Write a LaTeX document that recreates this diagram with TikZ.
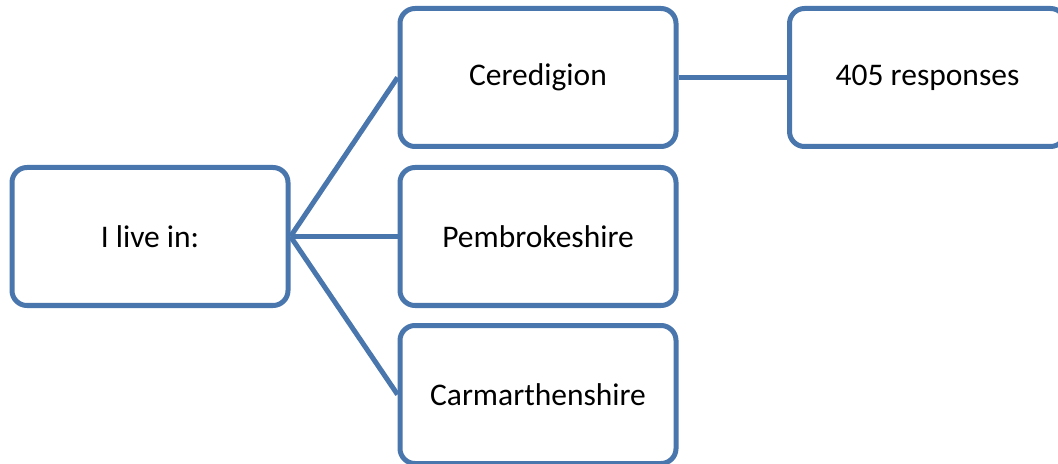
\documentclass[tikz,border=0pt]{standalone}
\usepackage{fontspec}
\setmainfont{Carlito}
\usepackage{tikz}
\usetikzlibrary{positioning,calc}

\definecolor{boxblue}{HTML}{4A76AE}

\begin{document}
\begin{tikzpicture}[x=0.5pt,y=-0.5pt,
    choice/.style={draw=boxblue,line width=2.5pt,rounded corners=7.5pt,fill=white,
      minimum width=138pt,minimum height=69pt,inner sep=0pt,
      font=\fontsize{15.75}{19}\selectfont},
    link/.style={draw=boxblue,line width=2.5pt}]
  \useasboundingbox (0,0) rectangle (1058,464);
  \node[choice] (live) at (150,236.5) {I live in:};
  \node[choice] (cered) at (538,77.5) {Ceredigion};
  \node[choice] (pemb) at (538,236.5) {Pembrokeshire};
  \node[choice] (carm) at (538,394.5) {Carmarthenshire};
  \node[choice] (resp) at (927.5,77.5) {405 responses};
  \foreach \to in {cered,pemb,carm}{%
    \draw[link] (live.east) -- (\to.west);
  }
  \draw[link] (cered.east) -- (resp.west);
\end{tikzpicture}
\end{document}
